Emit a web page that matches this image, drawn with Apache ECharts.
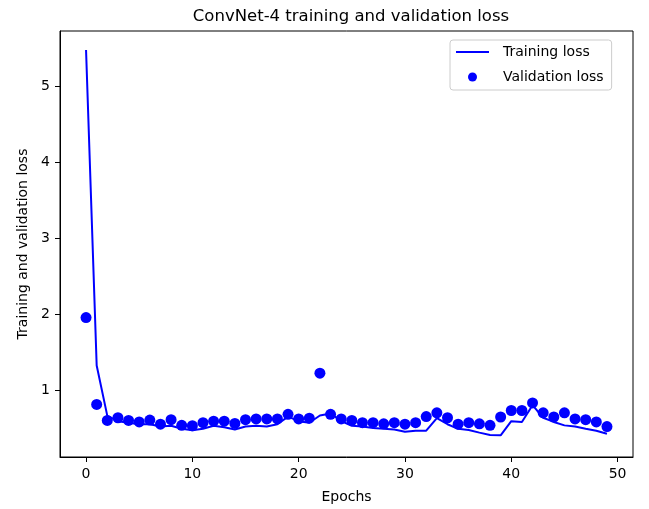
<!DOCTYPE html>
<html>
<head>
<meta charset="utf-8">
<script src="https://cdn.jsdelivr.net/npm/echarts@6/dist/echarts.min.js"></script>
<style>html,body{margin:0;padding:0;background:#fff}#c{width:649px;height:509px}</style>
</head>
<body>
<div id="c"></div>
<script>
const epochs = Array.from({length: 50}, (_, i) => i);
const trainingLoss = [5.47, 1.33, 0.67, 0.60, 0.58, 0.56, 0.56, 0.53, 0.54, 0.50,
  0.48, 0.50, 0.54, 0.52, 0.49, 0.53, 0.54, 0.53, 0.56, 0.66,
  0.60, 0.58, 0.675, 0.70, 0.60, 0.54, 0.53, 0.51, 0.50, 0.49,
  0.46, 0.475, 0.475, 0.64, 0.56, 0.50, 0.485, 0.45, 0.42, 0.415,
  0.60, 0.59, 0.81, 0.645, 0.59, 0.545, 0.53, 0.50, 0.475, 0.435];
const validationLoss = [1.96, 0.82, 0.61, 0.645, 0.61, 0.59, 0.615, 0.56, 0.62, 0.545,
  0.54, 0.58, 0.60, 0.60, 0.57, 0.62, 0.63, 0.63, 0.63, 0.69,
  0.63, 0.64, 1.23, 0.69, 0.63, 0.61, 0.58, 0.58, 0.565, 0.58,
  0.56, 0.58, 0.66, 0.71, 0.645, 0.56, 0.58, 0.565, 0.545, 0.655,
  0.74, 0.74, 0.84, 0.71, 0.655, 0.71, 0.63, 0.62, 0.59, 0.53];
const xTicks = [0, 10, 20, 30, 40, 50];
const yTicks = [1, 2, 3, 4, 5];

const font = 'DejaVu Sans';
const chart = echarts.init(document.getElementById('c'));
chart.setOption({
  animation: false,
  title: {
    text: 'ConvNet-4 training and validation loss',
    left: 346, top: 3, textAlign: 'center',
    textStyle: {fontFamily: font, fontSize: 16.5, fontWeight: 'normal', color: '#000'}
  },
  legend: {
    orient: 'vertical',
    left: 450, top: 40,
    padding: [4, 8, 5, 6],
    itemWidth: 33, itemHeight: 9, itemGap: 9,
    backgroundColor: 'rgba(255,255,255,0.8)',
    borderColor: '#cccccc', borderWidth: 1, borderRadius: 3,
    textStyle: {fontFamily: font, fontSize: 14, color: '#000', lineHeight: 16, padding: [0, 0, 0, 9]},
    data: [
      {name: 'Training loss', icon: 'path://M0,0 L33,0 L33,2 L0,2 Z'},
      {name: 'Validation loss', icon: 'circle'}
    ]
  },
  grid: {left: 60, top: 31, right: 16, bottom: 52, show: true, borderColor: '#000', borderWidth: 1, backgroundColor: 'transparent'},
  xAxis: {
    type: 'value', min: -2.45, max: 51.45,
    name: 'Epochs', nameLocation: 'middle', nameGap: 33,
    nameTextStyle: {fontFamily: font, fontSize: 14, color: '#000'},
    axisLine: {show: true, onZero: false, lineStyle: {color: '#000', width: 1}},
    axisTick: {show: true, length: 5, lineStyle: {color: '#000'}, customValues: xTicks},
    axisLabel: {fontFamily: font, fontSize: 14, color: '#000', margin: 10, customValues: xTicks},
    splitLine: {show: false}
  },
  yAxis: {
    type: 'value', min: 0.13, max: 5.72,
    name: 'Training and validation loss', nameLocation: 'middle', nameGap: 30,
    nameTextStyle: {fontFamily: font, fontSize: 14, color: '#000'},
    axisLine: {show: true, onZero: false, lineStyle: {color: '#000', width: 1}},
    axisTick: {show: true, length: 5, lineStyle: {color: '#000'}, customValues: yTicks},
    axisLabel: {fontFamily: font, fontSize: 14, color: '#000', margin: 10, customValues: yTicks},
    splitLine: {show: false}
  },
  series: [
    {
      name: 'Training loss', type: 'line',
      data: epochs.map((e, i) => [e, trainingLoss[i]]),
      showSymbol: false, symbol: 'none',
      lineStyle: {color: '#0000ff', width: 2},
      itemStyle: {color: '#0000ff'},
      z: 2
    },
    {
      name: 'Validation loss', type: 'scatter',
      data: epochs.map((e, i) => [e, validationLoss[i]]),
      symbol: 'circle', symbolSize: 11,
      itemStyle: {color: '#0000ff', opacity: 1},
      z: 3
    }
  ]
});
</script>
</body>
</html>
